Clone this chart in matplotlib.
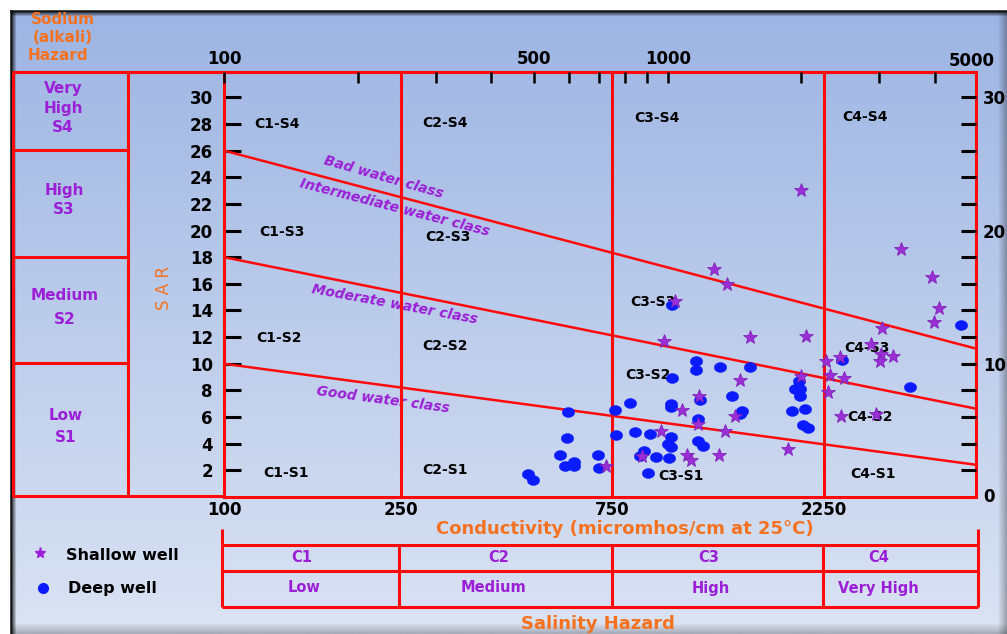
import numpy as np
import matplotlib
matplotlib.use('Agg')
import matplotlib.pyplot as plt
from matplotlib.path import Path

plt.rcParams['font.family'] = 'DejaVu Sans'
plt.rcParams['font.weight'] = 'bold'

W, H = 1007, 634

# shallow wells (stars): EC in micromhos/cm, SAR
shallow_ec = [724, 876, 968, 1037, 980, 1074, 1174, 1169, 1106, 1128, 1305, 1348, 1420,
              1455, 1273, 1359, 1534, 2050, 1993, 1863, 1993, 2271, 2321, 2499, 2301,
              2448, 2451, 2953, 2870, 3031, 3220, 3003, 3046, 3361, 3940, 4079, 3971]
shallow_sar = [2.30, 3.05, 4.96, 14.68, 11.70, 6.55, 7.55, 5.50, 3.12, 2.80, 3.14, 4.95, 6.05,
               8.79, 17.14, 16.01, 12.00, 12.11, 9.05, 3.63, 23.07, 10.21, 9.13, 8.96, 7.88,
               10.50, 6.07, 6.20, 11.49, 10.71, 10.56, 10.18, 12.68, 18.64, 16.51, 14.18, 13.11]

# deep wells (circles)
deep_ec = [483, 496, 572, 592, 597, 615, 588, 615, 696, 700, 759, 763, 822, 843, 914, 886,
           868, 939, 1005, 904, 1016, 1016, 1016, 1000, 1019, 1022, 1022, 1158, 1159, 1180,
           1169, 1169, 1199, 1309, 1395, 1469, 1457, 1534, 1902, 2039, 2021, 2074, 1936,
           1987, 1985, 1977, 2474, 3511, 4571]
deep_sar = [1.70, 1.25, 3.12, 4.44, 6.35, 2.62, 2.30, 2.32, 3.12, 2.20, 6.50, 4.62, 7.08, 4.87,
            4.75, 3.46, 3.05, 3.03, 2.95, 1.79, 7.00, 6.76, 4.53, 3.95, 3.72, 8.94, 14.44,
            10.18, 9.50, 7.30, 5.88, 4.21, 3.80, 9.75, 7.61, 6.46, 6.20, 9.75, 6.43, 6.61,
            5.38, 5.17, 8.12, 8.12, 7.59, 8.72, 10.26, 8.25, 12.92]

# salinity class boundaries and sodium class lines (SAR at EC=100 and EC=5000)
ec_bounds = [250, 750, 2250]
line_sar_100 = [10, 18, 26]
line_sar_5000 = [2.4, 6.6, 11.1]

bottom_ticks = [100, 250, 750, 2250]
top_ticks = [100, 200, 300, 400, 500, 600, 700, 800, 900, 1000, 2000, 3000, 4000]
top_labels = ['100', '', '', '', '500', '', '', '', '', '1000', '', '', '']

RED = '#ff0a0a'
PURPLE = '#9b1fd6'
ORANGE = '#f4721f'
BLUE = '#0a1cff'

fig = plt.figure(figsize=(W / 100, H / 100), dpi=100)
fig.patch.set_facecolor('white')

# background / layout axes in pixel coordinates
bg = fig.add_axes([0, 0, 1, 1])
bg.set_xlim(0, W)
bg.set_ylim(H, 0)
bg.axis('off')

top_c = np.array([157, 181, 227]) / 255
bot_c = np.array([219, 227, 243]) / 255
t = np.linspace(0, 1, 256)[:, None]
grad = (top_c * (1 - t) + bot_c * t)[:, None, :]
bg.imshow(grad, extent=[11, W, H, 11], aspect='auto', origin='upper', zorder=0)

# soft shadows right and bottom
sh = np.zeros((1, 64, 4))
sh[..., 3] = np.linspace(0, 0.3, 64)
bg.imshow(sh, extent=[998, W, H, 11], aspect='auto', zorder=0.5)
shb = np.zeros((64, 1, 4))
shb[..., 3] = np.linspace(0, 0.25, 64)[:, None]
bg.imshow(shb, extent=[11, W, H, 623], aspect='auto', origin='upper', zorder=0.5)

# dark outer frame with inner shadow
bg.plot([10.5, 10.5], [11, H], color='#111111', lw=1.8, zorder=1)
bg.plot([10.5, W], [11, 11], color='#111111', lw=1.8, zorder=1)
for i, a in enumerate([0.45, 0.3, 0.15]):
    bg.plot([12.5 + i, 12.5 + i], [12, H], color='black', alpha=a, lw=0.8, zorder=1)
    bg.plot([12, W], [12.5 + i, 12.5 + i], color='black', alpha=a, lw=0.8, zorder=1)

bg.text(10, 3, 'ISSN 2229-5518', fontsize=11, fontweight='normal', color='#222222',
        ha='left', va='bottom')

# left sodium hazard panel
lw_red = 2.2
for y in [72, 496]:
    bg.plot([12, 224], [y, y], color=RED, lw=lw_red, solid_capstyle='butt')
for x in [13, 128]:
    bg.plot([x, x], [72, 496], color=RED, lw=lw_red, solid_capstyle='butt')
for y in [150, 257, 363]:
    bg.plot([12, 128], [y, y], color=RED, lw=lw_red, solid_capstyle='butt')

for txt, (x, y) in zip(['Sodium', '(alkali)', 'Hazard'], [(63, 19), (63, 38), (58, 56)]):
    bg.text(x, y, txt, fontsize=11, color=ORANGE, ha='center', va='center')

panel_txt = [('Very', 63, 88), ('High', 63, 108), ('S4', 63, 127),
             ('High', 64, 191), ('S3', 64, 210),
             ('Medium', 65, 296), ('S2', 65, 319),
             ('Low', 66, 416), ('S1', 66, 437)]
for txt, x, y in panel_txt:
    bg.text(x, y, txt, fontsize=11, color=PURPLE, ha='center', va='center')

bg.text(164, 288, 'S A R', fontsize=12, fontweight='normal', color=ORANGE,
        rotation=90, ha='center', va='center')

# zone labels
zones = [('C1-S4', 277, 124), ('C2-S4', 445, 123), ('C3-S4', 657, 118), ('C4-S4', 865, 117),
         ('C1-S3', 282, 232), ('C2-S3', 448, 237), ('C3-S3', 653, 302), ('C4-S3', 867, 348),
         ('C1-S2', 279, 338), ('C2-S2', 445, 346), ('C3-S2', 648, 375), ('C4-S2', 870, 417),
         ('C1-S1', 286, 473), ('C2-S1', 445, 470), ('C3-S1', 681, 476), ('C4-S1', 873, 474)]
for txt, x, y in zones:
    bg.text(x, y, txt, fontsize=10, color='black', ha='center', va='center')

# water class labels
wclass = [('Bad water class', 384, 177, -16),
          ('Intermediate water class', 395, 208, -14.5),
          ('Moderate water class', 395, 304, -10.5),
          ('Good water class', 383, 400, -7.5)]
for txt, x, y, r in wclass:
    bg.text(x, y, txt, fontsize=10, style='italic', color=PURPLE, rotation=r,
            rotation_mode='anchor', ha='center', va='center')

# top 5000 label and right-hand 0
bg.text(972, 61, '5000', fontsize=12, ha='center', va='center')
bg.text(983, 497, '0', fontsize=12, ha='left', va='center')

# conductivity title
bg.text(625, 529, 'Conductivity (micromhos/cm at 25\u00b0C)', fontsize=13, color=ORANGE,
        ha='center', va='center')

# salinity table
for y in [545, 571, 607]:
    bg.plot([222, 978], [y, y], color=RED, lw=lw_red, solid_capstyle='butt')
for x in [222, 399, 612, 823, 978]:
    bg.plot([x, x], [545, 607], color=RED, lw=lw_red, solid_capstyle='butt')
for x in [222, 978]:
    bg.plot([x, x], [529, 545], color=RED, lw=lw_red, solid_capstyle='butt')
for txt, x in zip(['C1', 'C2', 'C3', 'C4'], [302, 499, 709, 879]):
    bg.text(x, 557, txt, fontsize=10.5, color=PURPLE, ha='center', va='center')
for txt, x in zip(['Low', 'Medium', 'High', 'Very High'], [304, 493, 711, 878]):
    bg.text(x, 588, txt, fontsize=10.5, color=PURPLE, ha='center', va='center')
bg.text(598, 624, 'Salinity Hazard', fontsize=13, color=ORANGE, ha='center', va='center')

# legend
theta = np.linspace(0, 2 * np.pi, 60)
ellipse = Path(np.column_stack([1.25 * np.cos(theta), np.sin(theta)]), closed=True)
bg.plot([40], [553], ls='none', marker='*', ms=8, mfc=PURPLE, mec=PURPLE)
bg.plot([43], [588], ls='none', marker='o', ms=7, mfc=BLUE, mec=BLUE)
bg.text(66, 556, 'Shallow well', fontsize=11.5, color='black', ha='left', va='center')
bg.text(68, 589, 'Deep well', fontsize=11.5, color='black', ha='left', va='center')

# main diagram axes
ax = fig.add_axes([224 / W, 1 - 497 / H, 752 / W, 425 / H])
ax.patch.set_alpha(0)
ax.set_xscale('log')
ax.set_xlim(100, 4950)
ax.set_ylim(0, 31.9)
for s in ax.spines.values():
    s.set_color(RED)
    s.set_linewidth(lw_red)

for xb in ec_bounds:
    ax.axvline(xb, color=RED, lw=lw_red, zorder=2)
for s0, s1 in zip(line_sar_100, line_sar_5000):
    ax.plot([100, 5000], [s0, s1], color=RED, lw=1.8, zorder=2)

ax.plot(deep_ec, deep_sar, ls='none', marker=ellipse, ms=8.8, mfc=BLUE, mec=BLUE,
        mew=0.4, zorder=4)
ax.plot(shallow_ec, shallow_sar, ls='none', marker='*', ms=10, mfc='#9b2fd6',
        mec='#7a1ab5', mew=0.5, zorder=5)

ax.set_yticks(range(2, 31, 2))
ax.tick_params(axis='y', direction='in', length=12, width=2.2, color='black', pad=8,
               labelsize=12)
ax.set_xticks(bottom_ticks, [str(v) for v in bottom_ticks])
ax.set_xticks([], minor=True)
ax.tick_params(axis='x', which='both', length=0, pad=3, labelsize=12)

axt = ax.twiny()
axt.set_xscale('log')
axt.set_xlim(ax.get_xlim())
axt.set_xticks(top_ticks, top_labels)
axt.set_xticks([], minor=True)
axt.tick_params(axis='x', direction='in', length=8, width=1.8, color='black', pad=3,
                labelsize=12)
for s in axt.spines.values():
    s.set_visible(False)

axr = ax.twinx()
axr.set_ylim(ax.get_ylim())
axr.set_yticks(range(2, 31, 2), [str(v) if v % 10 == 0 else '' for v in range(2, 31, 2)])
axr.tick_params(axis='y', direction='in', length=11, width=2.2, color='black', pad=5,
                labelsize=12)
for s in axr.spines.values():
    s.set_visible(False)

fig.savefig('out.png', dpi=100)
